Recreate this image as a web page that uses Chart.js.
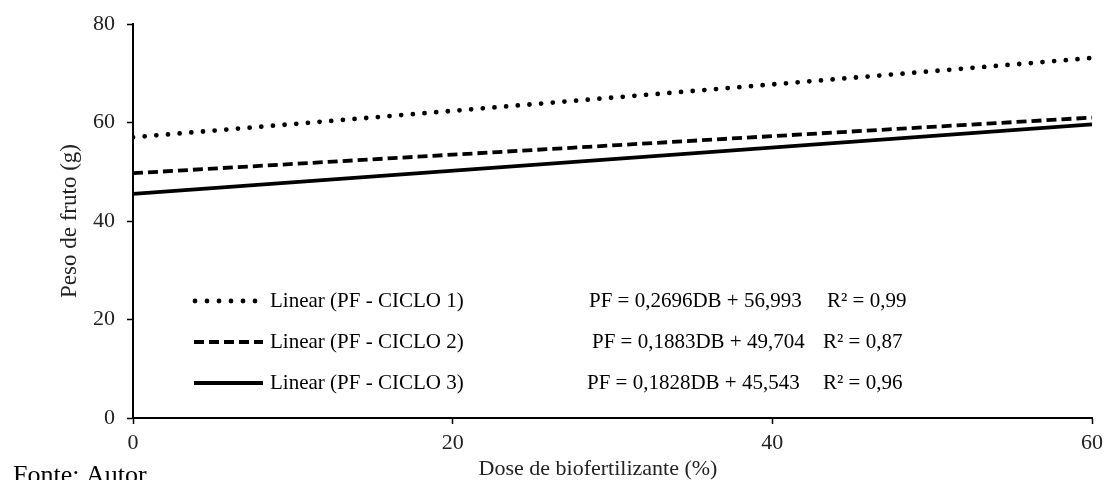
<!DOCTYPE html>
<html>
<head>
<meta charset="utf-8">
<script src="https://cdn.jsdelivr.net/npm/chart.js@4"></script>
<style>
  html, body { margin: 0; padding: 0; background: #fff; }
  #wrap { width: 1105px; height: 480px; }
</style>
</head>
<body>
<div id="wrap"><canvas id="pesoChart" width="1105" height="480"></canvas></div>
<script>
// dose de biofertilizante (%) at the two ends of each trend line
const doses = [0, 60];
const ciclo1 = [57.0, 73.1];
const ciclo2 = [49.7, 61.0];
const ciclo3 = [45.5, 59.6];
const xTicks = [0, 20, 40, 60];
const yTicks = [0, 20, 40, 60, 80];
const legendLabels = ['Linear (PF - CICLO 1)', 'Linear (PF - CICLO 2)', 'Linear (PF - CICLO 3)'];
const equations = ['PF = 0,2696DB + 56,993', 'PF = 0,1883DB + 49,704', 'PF = 0,1828DB + 45,543'];
const r2Labels = ['R\u00b2 = 0,99', 'R\u00b2 = 0,87', 'R\u00b2 = 0,96'];

const serif = "'Liberation Serif', 'Times New Roman', serif";
const dotDash = [0, 11.7];
const dashDash = [10, 5];

const toPoints = vals => doses.map((d, i) => ({x: d, y: vals[i]}));

// legend + equations drawn inside the plot, plus x title and source note
const legendPlugin = {
    id: 'trendLegend',
    afterDraw(chart) {
        const ctx = chart.ctx;
        const rowsY = [301, 342, 383];
        const styles = [
            {dash: [0, 12], cap: 'round', w: 4.8, x1: 195, x2: 256},
            {dash: dashDash, cap: 'butt', w: 3.8, x1: 194, x2: 263},
            {dash: [], cap: 'butt', w: 3.8, x1: 194, x2: 263}
        ];
        const eqX = [589, 592, 587];
        const r2X = [827, 823, 823];
        ctx.save();
        rowsY.forEach((y, i) => {
            const s = styles[i];
            ctx.beginPath();
            ctx.setLineDash(s.dash);
            ctx.lineCap = s.cap;
            ctx.lineWidth = s.w;
            ctx.strokeStyle = '#000';
            ctx.moveTo(s.x1, y);
            ctx.lineTo(s.x2, y);
            ctx.stroke();
            ctx.setLineDash([]);
            ctx.fillStyle = '#000';
            ctx.font = '21px ' + serif;
            ctx.textBaseline = 'middle';
            ctx.textAlign = 'left';
            ctx.fillText(legendLabels[i], 270, y);
            ctx.fillText(equations[i], eqX[i], y);
            ctx.fillText(r2Labels[i], r2X[i], y);
        });
        ctx.fillStyle = '#222';
        ctx.font = '22px ' + serif;
        ctx.textAlign = 'center';
        ctx.fillText('Dose de biofertilizante (%)', 598, 469);
        ctx.fillStyle = '#000';
        ctx.font = '26px ' + serif;
        ctx.textAlign = 'left';
        ctx.textBaseline = 'alphabetic';
        ctx.fillText('Fonte: Autor', 13, 483);
        ctx.restore();
    }
};

const pesoCtx = document.getElementById('pesoChart').getContext('2d');
new Chart(pesoCtx, {
    type: 'line',
    data: {
        datasets: [{
            label: legendLabels[0],
            data: toPoints(ciclo1),
            borderColor: '#000',
            borderWidth: 4.8,
            borderDash: dotDash,
            borderCapStyle: 'round',
            pointRadius: 0,
            fill: false
        }, {
            label: legendLabels[1],
            data: toPoints(ciclo2),
            borderColor: '#000',
            borderWidth: 3.8,
            borderDash: dashDash,
            pointRadius: 0,
            fill: false
        }, {
            label: legendLabels[2],
            data: toPoints(ciclo3),
            borderColor: '#000',
            borderWidth: 3.8,
            pointRadius: 0,
            fill: false
        }]
    },
    options: {
        responsive: false,
        animation: false,
        layout: {
            padding: {top: 24, right: 13, left: 0, bottom: 0}
        },
        plugins: {
            legend: {display: false},
            tooltip: {enabled: false}
        },
        scales: {
            x: {
                type: 'linear',
                min: 0,
                max: 60,
                afterBuildTicks: scale => { scale.ticks = xTicks.map(v => ({value: v})); },
                afterFit: scale => {
                    scale.height = 62;
                    scale.paddingRight = 0;
                    scale.paddingLeft = 0;
                },
                ticks: {
                    color: '#222',
                    font: {family: serif, size: 22},
                    padding: 6
                },
                grid: {
                    drawOnChartArea: false,
                    tickLength: 6,
                    tickColor: '#000',
                    tickWidth: 1.5
                },
                border: {color: '#000', width: 2}
            },
            y: {
                min: 0,
                max: 80,
                afterBuildTicks: scale => { scale.ticks = yTicks.map(v => ({value: v})); },
                afterFit: scale => {
                    scale.width = 133;
                    scale.paddingTop = 0;
                    scale.paddingBottom = 0;
                },
                ticks: {
                    color: '#222',
                    font: {family: serif, size: 22},
                    padding: 12
                },
                grid: {
                    drawOnChartArea: false,
                    tickLength: 6,
                    tickColor: '#000',
                    tickWidth: 1.5
                },
                border: {color: '#000', width: 2},
                title: {
                    display: true,
                    text: 'Peso de fruto (g)',
                    color: '#222',
                    font: {family: serif, size: 23},
                    padding: {top: 56, bottom: 0}
                }
            }
        }
    },
    plugins: [legendPlugin]
});
</script>
</body>
</html>
